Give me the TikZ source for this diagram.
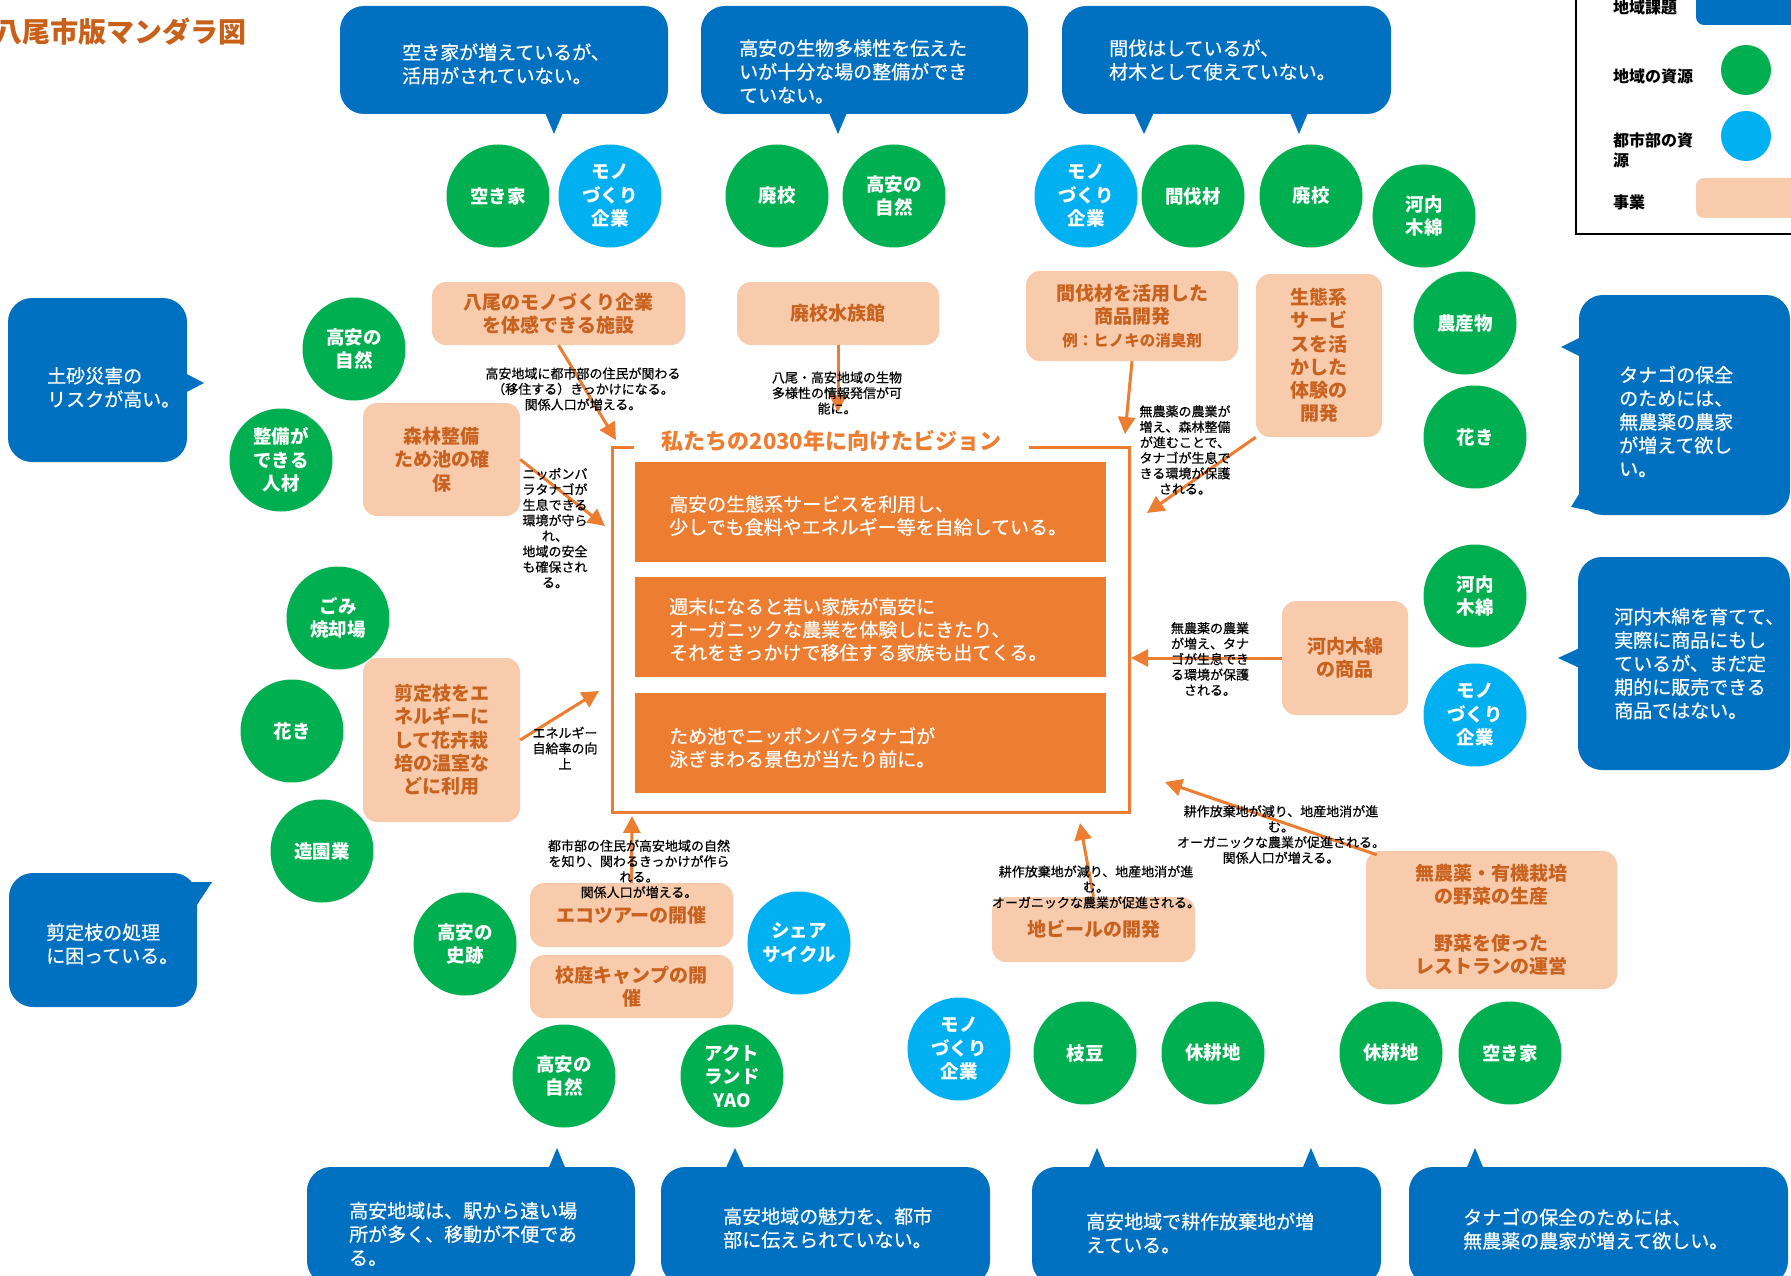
\documentclass[tikz,border=0pt]{standalone}
\usepackage{fontspec}
\setmainfont{Noto Sans CJK JP}
\newfontface\medfont{Noto Sans CJK JP}[FakeBold=0.6]
\usetikzlibrary{arrows.meta}
\definecolor{issueblue}{RGB}{0,112,192}
\definecolor{resgreen}{RGB}{0,176,80}
\definecolor{rescyan}{RGB}{0,176,240}
\definecolor{peach}{RGB}{248,203,173}
\definecolor{vorange}{RGB}{237,125,49}
\definecolor{bizorange}{RGB}{200,98,30}
\definecolor{titlebrown}{RGB}{200,96,26}
\begin{document}
\begin{tikzpicture}[x=1pt,y=-1pt,
 bubble/.style={fill=issueblue, rounded corners=24pt, inner sep=0pt},
 btext/.style={text=white, align=left, anchor=west, inner sep=0pt, font=\medfont\fontsize{19}{23.5}\selectfont},
 res/.style={circle, minimum size=103pt, inner sep=0pt, text=white, align=center, font=\bfseries\fontsize{18.5}{23.5}\selectfont},
 loc/.style={res, fill=resgreen},
 urb/.style={res, fill=rescyan},
 biz/.style={fill=peach, rounded corners=14pt, inner sep=0pt, text=bizorange, align=center, font=\bfseries\fontsize{19}{23.3}\selectfont},
 vbox/.style={fill=vorange, minimum width=471pt, minimum height=100pt, inner sep=0pt},
 vtext/.style={text=white, align=left, anchor=west, inner sep=0pt, font=\medfont\fontsize{19}{23}\selectfont},
 arr/.style={draw=vorange, line width=3pt, -{Triangle[length=17pt,width=17pt]}},
 lbl/.style={align=center, inner sep=0pt, font=\medfont\fontsize{13}{15.5}\selectfont},
 tail/.style={fill=issueblue},
 lgtext/.style={anchor=west, align=left, inner sep=0pt, font=\bfseries\fontsize{16}{20}\selectfont}
]
\useasboundingbox (0,0) rectangle (1791,1276);
\fill[white] (0,0) rectangle (1791,1276);
\clip (0,0) rectangle (1791,1276);

% title
\node[anchor=west, text=titlebrown, font=\bfseries\fontsize{28}{30}\selectfont, inner sep=0pt] (title) at (-6,32) {八尾市版マンダラ図};

% legend
\draw[line width=2.5pt] (1576,-10) rectangle (1800,234);
\node[fill=issueblue, rounded corners=8pt, minimum width=120pt, minimum height=50pt] (lgb) at (1756,0) {};
\node[circle, fill=resgreen, minimum size=50pt, inner sep=0pt] (lgg) at (1746,70) {};
\node[circle, fill=rescyan, minimum size=50pt, inner sep=0pt] (lgc) at (1746,136) {};
\node[fill=peach, rounded corners=8pt, minimum width=120pt, minimum height=40pt] (lgp) at (1756,198) {};
\node[lgtext] (lg1) at (1613,7) {地域課題};
\node[lgtext] (lg2) at (1613,76) {地域の資源};
\node[lgtext] (lg3) at (1613,150) {都市部の資\\源};
\node[lgtext] (lg4) at (1613,202) {事業};

% top bubbles
\node[bubble, minimum width=328pt, minimum height=108pt] (b1) at (504,60) {};
\fill[tail] (543,108) -- (554,134) -- (565,108) -- cycle;
\node[btext] (b1t) at (402,64) {空き家が増えているが、\\活用がされていない。};
\node[bubble, minimum width=327pt, minimum height=108pt] (b2) at (864.5,60) {};
\fill[tail] (827,108) -- (838,134) -- (849,108) -- cycle;
\node[btext] (b2t) at (739,71.5) {高安の生物多様性を伝えた\\いが十分な場の整備ができ\\ていない。};
\node[bubble, minimum width=329pt, minimum height=108pt] (b3) at (1226.5,60) {};
\fill[tail] (1132,108) -- (1144,134) -- (1156,108) -- cycle;
\fill[tail] (1288,108) -- (1299,134) -- (1310,108) -- cycle;
\node[btext] (b3t) at (1109,60) {間伐はしているが、\\材木として使えていない。};

% right bubbles
\node[bubble, minimum width=211pt, minimum height=220pt] (b4) at (1684.5,405) {};
\fill[tail] (1585,335) -- (1561,347) -- (1585,359) -- cycle;
\fill[tail] (1584,486) -- (1571,507) -- (1602,513) -- cycle;
\node[btext] (b4t) at (1619,421.5) {タナゴの保全\\のためには、\\無農薬の農家\\が増えて欲し\\い。};
\node[bubble, minimum width=212pt, minimum height=213pt] (b5) at (1684,663.5) {};
\fill[tail] (1584,646) -- (1558,658) -- (1584,670) -- cycle;
\node[btext] (b5t) at (1614,663.5) {河内木綿を育てて、\\実際に商品にもし\\ているが、まだ定\\期的に販売できる\\商品ではない。};

% left bubbles
\node[bubble, minimum width=179pt, minimum height=164pt] (b6) at (97.5,380) {};
\fill[tail] (181,371) -- (204,383) -- (181,395) -- cycle;
\node[btext] (b6t) at (47,387.5) {土砂災害の\\リスクが高い。};
\node[bubble, minimum width=188pt, minimum height=134pt] (b7) at (103,940) {};
\fill[tail] (180,882) -- (212,882) -- (195,908) -- cycle;
\node[btext] (b7t) at (46,944) {剪定枝の処理\\に困っている。};

% bottom bubbles
\node[bubble, minimum width=328pt, minimum height=118pt] (b8) at (471,1226) {};
\fill[tail] (547,1172) -- (557,1148) -- (567,1172) -- cycle;
\node[btext] (b8t) at (349,1234) {高安地域は、駅から遠い場\\所が多く、移動が不便であ\\る。};
\node[bubble, minimum width=329pt, minimum height=118pt] (b9) at (825.5,1226) {};
\fill[tail] (724,1172) -- (735,1148) -- (746,1172) -- cycle;
\node[btext] (b9t) at (723,1228) {高安地域の魅力を、都市\\部に伝えられていない。};
\node[bubble, minimum width=349pt, minimum height=118pt] (b10) at (1206.5,1226) {};
\fill[tail] (1087,1172) -- (1097,1148) -- (1107,1172) -- cycle;
\fill[tail] (1301,1172) -- (1311,1148) -- (1321,1172) -- cycle;
\node[btext] (b10t) at (1086,1233) {高安地域で耕作放棄地が増\\えている。};
\node[bubble, minimum width=379pt, minimum height=118pt] (b11) at (1598.5,1226) {};
\fill[tail] (1465,1172) -- (1475,1148) -- (1485,1172) -- cycle;
\node[btext] (b11t) at (1463,1229) {タナゴの保全のためには、\\無農薬の農家が増えて欲しい。};

% resources: top row
\node[loc] (r1) at (498,196) {空き家};
\node[urb] (r2) at (610,196) {モノ\\づくり\\企業};
\node[loc] (r3) at (777,196) {廃校};
\node[loc] (r4) at (894,196) {高安の\\自然};
\node[urb] (r5) at (1086,196) {モノ\\づくり\\企業};
\node[loc] (r6) at (1193,196) {間伐材};
\node[loc] (r7) at (1311,196) {廃校};
\node[loc] (r8) at (1424,216) {河内\\木綿};
% right column
\node[loc] (r9) at (1465,323) {農産物};
\node[loc] (r10) at (1475,437) {花き};
\node[loc] (r11) at (1475,596) {河内\\木綿};
\node[urb] (r12) at (1475,715) {モノ\\づくり\\企業};
% left column
\node[loc] (r13) at (354,349) {高安の\\自然};
\node[loc] (r14) at (281,460) {整備が\\できる\\人材};
\node[loc] (r15) at (338,618) {ごみ\\焼却場};
\node[loc] (r16) at (292,731) {花き};
\node[loc] (r17) at (322,851) {造園業};
% bottom
\node[loc] (r18) at (465,944) {高安の\\史跡};
\node[urb] (r19) at (799,943) {シェア\\サイクル};
\node[loc] (r20) at (564,1076) {高安の\\自然};
\node[loc] (r21) at (732,1076) {アクト\\ランド\\YAO};
\node[urb] (r22) at (959,1049) {モノ\\づくり\\企業};
\node[loc] (r23) at (1085,1053) {枝豆};
\node[loc] (r24) at (1213,1053) {休耕地};
\node[loc] (r25) at (1391,1053) {休耕地};
\node[loc] (r26) at (1510,1053) {空き家};

% business boxes
\node[biz, minimum width=253pt, minimum height=63pt] (yao) at (558.5,313.5) {八尾のモノづくり企業\\を体感できる施設};
\node[biz, minimum width=202pt, minimum height=63pt] (haikou) at (838,313.5) {廃校水族館};
\node[biz, minimum width=212pt, minimum height=90pt] (kanbatsu) at (1132,316) {間伐材を活用した\\商品開発\\{\fontsize{15.5}{18}\selectfont 例：ヒノキの消臭剤}};
\node[biz, minimum width=126pt, minimum height=163pt] (seitai) at (1319,355.5) {生態系\\サービ\\スを活\\かした\\体験の\\開発};
\node[biz, minimum width=157pt, minimum height=113pt] (shinrin) at (441.5,459.5) {森林整備\\ため池の確\\保};
\node[biz, minimum width=157pt, minimum height=164pt] (sentei) at (441.5,740) {剪定枝をエ\\ネルギーに\\して花卉栽\\培の温室な\\どに利用};
\node[biz, minimum width=126pt, minimum height=114pt] (kawachi) at (1345,658) {河内木綿\\の商品};
\node[biz, minimum width=251pt, minimum height=138pt] (muno) at (1491.5,920) {無農薬・有機栽培\\の野菜の生産\\ \\野菜を使った\\レストランの運営};
\node[biz, minimum width=203pt, minimum height=64pt] (eco) at (631.5,915) {エコツアーの開催};
\node[biz, minimum width=203pt, minimum height=63pt] (camp) at (631.5,986.5) {校庭キャンプの開\\催};
\node[biz, minimum width=203pt, minimum height=65pt] (jibeer) at (1093.5,929.5) {地ビールの開発};

% vision frame
\node[draw=vorange, line width=3pt, minimum width=517pt, minimum height=365pt, inner sep=0pt] (vision) at (870.5,629.5) {};
\node[vbox] (v1) at (870.5,512) {};
\node[vbox] (v2) at (870.5,627) {};
\node[vbox] (v3) at (870.5,742.5) {};
\node[fill=white, text=vorange, font=\bfseries\fontsize{22}{26}\selectfont, minimum width=395pt, minimum height=40pt, inner sep=0pt] (vtitle) at (831.5,441) {私たちの2030年に向けたビジョン};
\node[vtext] (v1t) at (669,515.5) {高安の生態系サービスを利用し、\\少しでも食料やエネルギー等を自給している。};
\node[vtext] (v2t) at (669,629.5) {週末になると若い家族が高安に\\オーガニックな農業を体験しにきたり、\\それをきっかけで移住する家族も出てくる。};
\node[vtext] (v3t) at (669,747.5) {ため池でニッポンバラタナゴが\\泳ぎまわる景色が当たり前に。};

% arrows
\coordinate (t1) at (616,440);
\coordinate (t2) at (838,412);
\coordinate (t3) at (1125,434);
\coordinate (t4) at (1147,513);
\coordinate (t5) at (1131,658);
\coordinate (t6) at (1165,782);
\coordinate (t7) at (1080,823);
\coordinate (t8) at (632,816);
\coordinate (t9) at (605,526);
\coordinate (t10) at (599,691);
\draw[arr] (yao.south) -- (t1);
\draw[arr] (haikou.south) -- (t2);
\draw[arr] (kanbatsu.south) -- (t3);
\draw[arr] (seitai.south west) -- (t4);
\draw[arr] (kawachi.west) -- (t5);
\draw[arr] ([shift={(11,4)}]muno.north west) -- (t6);
\draw[arr] (jibeer.north) -- (t7);
\draw[arr] (eco.north) -- (t8);
\draw[arr] (shinrin.east) -- (t9);
\draw[arr] (sentei.east) -- (t10);

% arrow labels
\node[lbl] (l1) at (583,389) {高安地域に都市部の住民が関わる\\（移住する）きっかけになる。\\関係人口が増える。};
\node[lbl] (l2) at (837,393) {八尾・高安地域の生物\\多様性の情報発信が可\\能に。};
\node[lbl] (l3) at (1185,450) {無農薬の農業が\\増え、森林整備\\が進むことで、\\タナゴが生息で\\きる環境が保護\\される。};
\node[lbl] (l5) at (1210,659) {無農薬の農業\\が増え、タナ\\ゴが生息でき\\る環境が保護\\される。};
\node[lbl] (l6) at (1281,834.5) {耕作放棄地が減り、地産地消が進\\む。\\オーガニックな農業が促進される。\\関係人口が増える。};
\node[lbl] (l7) at (1096,887) {耕作放棄地が減り、地産地消が進\\む。\\オーガニックな農業が促進される。};
\node[lbl] (l8) at (639,869) {都市部の住民が高安地域の自然\\を知り、関わるきっかけが作ら\\れる。\\関係人口が増える。};
\node[lbl] (l9) at (555,528) {ニッポンバ\\ラタナゴが\\生息できる\\環境が守ら\\れ、\\地域の安全\\も確保され\\る。};
\node[lbl] (l10) at (565,748) {エネルギー\\自給率の向\\上};
\end{tikzpicture}
\end{document}
